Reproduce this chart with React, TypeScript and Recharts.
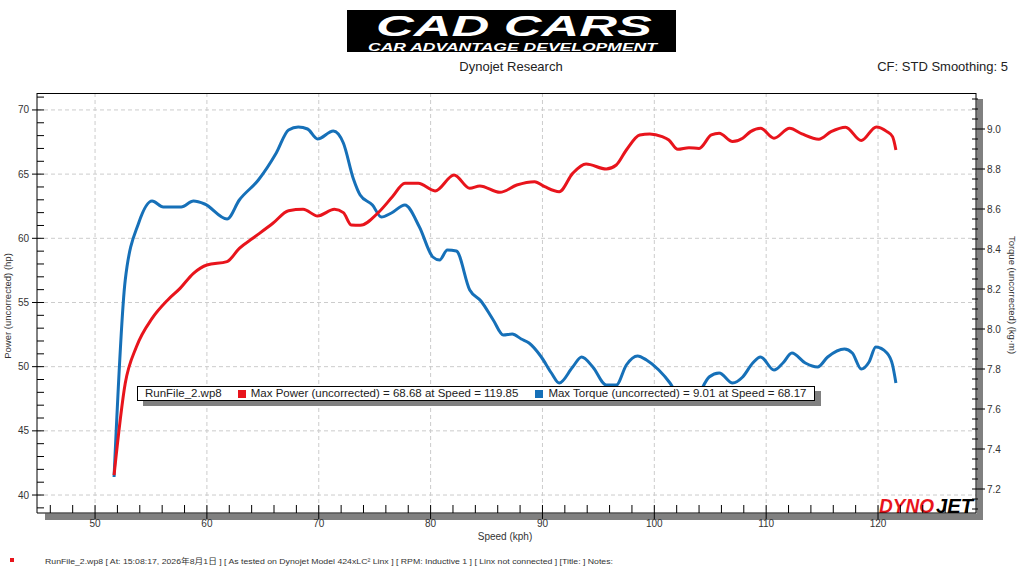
import React from 'react';
import { LineChart, Line, XAxis, YAxis, CartesianGrid, Legend } from 'recharts';

// ---- data ----
const powerSpeed = [51.7, 52.7, 53.7, 55.1, 56.5, 57.6, 58.8, 60.0, 61.8, 62.9, 64.1, 65.9, 67.3, 68.6, 69.9, 71.4, 72.2, 72.9, 73.7, 75.4, 76.6, 77.7, 78.9, 80.4, 82.1, 83.5, 84.4, 86.2, 87.7, 89.3, 90.2, 91.5, 92.7, 93.9, 95.7, 96.6, 97.5, 98.7, 99.6, 100.7, 101.3, 102.1, 103.1, 104.0, 105.1, 105.8, 107.0, 107.9, 108.6, 109.5, 110.7, 112.1, 113.2, 114.7, 115.8, 117.1, 118.5, 119.85, 120.8, 121.3, 121.6];
const powerHp = [41.55, 48.7, 51.55, 53.76, 55.2, 56.1, 57.27, 57.92, 58.18, 59.22, 60.0, 61.17, 62.15, 62.26, 61.74, 62.26, 62.0, 61.04, 61.01, 62.07, 63.25, 64.29, 64.29, 63.69, 64.93, 63.9, 64.08, 63.58, 64.15, 64.41, 64.02, 63.63, 65.06, 65.79, 65.4, 65.71, 66.88, 68.05, 68.13, 67.92, 67.66, 66.93, 67.06, 67.0, 68.05, 68.18, 67.54, 67.8, 68.31, 68.57, 67.8, 68.57, 68.13, 67.72, 68.31, 68.66, 67.62, 68.68, 68.31, 67.92, 66.88];

const torqueSpeed = [51.7, 52.7, 53.9, 55.1, 56.1, 57.7, 58.8, 59.8, 61.8, 62.9, 64.6, 66.2, 67.3, 68.17, 69.0, 69.9, 71.3, 72.2, 73.1, 73.7, 74.8, 75.6, 76.5, 77.7, 79.0, 80.2, 80.8, 81.5, 82.3, 83.5, 84.5, 85.6, 86.5, 87.3, 88.1, 88.8, 89.9, 90.8, 91.5, 92.7, 93.5, 94.5, 95.7, 96.6, 97.5, 98.5, 99.3, 100.4, 101.4, 102.2, 102.9, 103.8, 104.9, 105.8, 107.0, 107.9, 108.8, 109.5, 110.7, 111.5, 112.3, 113.5, 114.6, 115.5, 117.0, 117.7, 118.5, 119.2, 119.8, 120.8, 121.3, 121.6];
const torqueKgm = [7.26, 8.245, 8.53, 8.64, 8.61, 8.61, 8.64, 8.625, 8.55, 8.645, 8.745, 8.88, 8.995, 9.01, 9.0, 8.95, 8.99, 8.93, 8.75, 8.67, 8.62, 8.56, 8.58, 8.62, 8.51, 8.36, 8.345, 8.395, 8.39, 8.195, 8.14, 8.045, 7.97, 7.975, 7.95, 7.93, 7.86, 7.78, 7.73, 7.81, 7.86, 7.81, 7.72, 7.72, 7.82, 7.865, 7.845, 7.795, 7.73, 7.66, 7.635, 7.66, 7.76, 7.78, 7.73, 7.76, 7.83, 7.86, 7.795, 7.83, 7.88, 7.83, 7.81, 7.86, 7.9, 7.88, 7.8, 7.835, 7.91, 7.88, 7.82, 7.73];

// ---- ticks ----
const speedMajor = [50, 60, 70, 80, 90, 100, 110, 120];
const speedTicks = [46, 48, 50, 52, 54, 56, 58, 60, 62, 64, 66, 68, 70, 72, 74, 76, 78, 80, 82, 84, 86, 88, 90, 92, 94, 96, 98, 100, 102, 104, 106, 108, 110, 112, 114, 116, 118, 120, 122, 124, 126, 128];
const hpMajor = [40, 45, 50, 55, 60, 65, 70];
const hpTicks = [39, 40, 41, 42, 43, 44, 45, 46, 47, 48, 49, 50, 51, 52, 53, 54, 55, 56, 57, 58, 59, 60, 61, 62, 63, 64, 65, 66, 67, 68, 69, 70, 71];
const kgMajor = [7.2, 7.4, 7.6, 7.8, 8.0, 8.2, 8.4, 8.6, 8.8, 9.0];
const kgTicks = [7.1, 7.15, 7.2, 7.25, 7.3, 7.35, 7.4, 7.45, 7.5, 7.55, 7.6, 7.65, 7.7, 7.75, 7.8, 7.85, 7.9, 7.95, 8.0, 8.05, 8.1, 8.15, 8.2, 8.25, 8.3, 8.35, 8.4, 8.45, 8.5, 8.55, 8.6, 8.65, 8.7, 8.75, 8.8, 8.85, 8.9, 8.95, 9.0, 9.05, 9.1, 9.15];

const legendFile = 'RunFile_2.wp8';
const legendPower = 'Max Power (uncorrected) = 68.68 at Speed = 119.85';
const legendTorque = 'Max Torque (uncorrected) = 9.01 at Speed = 68.17';
const footerText = 'RunFile_2.wp8  [  At:  15:08:17,  2026年8月1日  ] [ As tested on Dynojet Model 424xLC² Linx ] [ RPM: Inductive 1 ] [ Linx not connected ] [Title: ]  Notes:';

const powerData = powerSpeed.map((s, i) => ({ speed: s, power: powerHp[i] }));
const torqueData = torqueSpeed.map((s, i) => ({ speed: s, torque: torqueKgm[i] }));

const RED = '#e8141c';
const BLUE = '#1670b8';
const FONT = '"Liberation Sans", Arial, "Noto Sans CJK JP", sans-serif';

const isIn = (arr: number[], v: number) => arr.some((a) => Math.abs(a - v) < 1e-6);

const BottomTick = (p: any) => {
  const { x, y, payload } = p;
  const major = isIn(speedMajor, payload.value);
  return (
    <g>
      <line x1={x} x2={x} y1={y - 8} y2={major ? y + 6 : y} stroke="#000" strokeWidth={1} />
      {major && (
        <text x={x} y={y + 14} textAnchor="middle" fontSize={10} fill="#333" fontFamily={FONT}>
          {payload.value}
        </text>
      )}
    </g>
  );
};

const LeftTick = (p: any) => {
  const { x, y, payload } = p;
  const major = isIn(hpMajor, payload.value);
  return (
    <g>
      <line x1={major ? x - 5 : x} x2={x + 7} y1={y} y2={y} stroke="#000" strokeWidth={1} />
      {major && (
        <text x={x - 8} y={y + 3.5} textAnchor="end" fontSize={10} fill="#333" fontFamily={FONT}>
          {payload.value}
        </text>
      )}
    </g>
  );
};

const RightTick = (p: any) => {
  const { x, y, payload } = p;
  const major = isIn(kgMajor, payload.value);
  return (
    <g>
      <line x1={x - 4} x2={major ? x + 9 : x + 2} y1={y} y2={y} stroke="#000" strokeWidth={1} />
      {major && (
        <text x={x + 11} y={y + 3.5} textAnchor="start" fontSize={10} fill="#333" fontFamily={FONT}>
          {Number(payload.value).toFixed(1)}
        </text>
      )}
    </g>
  );
};

const LegendBox = () => (
  <div
    style={{
      boxSizing: 'border-box',
      width: 678,
      height: 15,
      border: '1px solid #000',
      background: '#fff',
      boxShadow: '6px 5px 0 #808080',
      display: 'flex',
      alignItems: 'center',
      fontFamily: FONT,
      fontSize: 11.5,
      color: '#222',
      whiteSpace: 'nowrap',
      paddingLeft: 7,
      lineHeight: '13px',
    }}
  >
    <span>{legendFile}</span>
    <span style={{ display: 'inline-block', width: 8, height: 8, background: RED, marginLeft: 16, marginRight: 5 }} />
    <span>{legendPower}</span>
    <span style={{ display: 'inline-block', width: 8, height: 8, background: BLUE, marginLeft: 17, marginRight: 5 }} />
    <span>{legendTorque}</span>
  </div>
);

export default function App() {
  return (
    <div style={{ position: 'absolute', left: 0, top: 0, width: 1024, height: 576, background: '#fff', overflow: 'hidden' }}>
      <svg width={1024} height={576} style={{ position: 'absolute', left: 0, top: 0 }}>
        {/* header logo */}
        <rect x={347} y={10} width={329} height={42} fill="#000" />
        <text transform="translate(376,35.5) scale(1,1.28)" x={0} y={0} fill="#fff" fontFamily={FONT} fontWeight={900} fontStyle="italic" fontSize={23} textLength={276} lengthAdjust="spacingAndGlyphs">
          CAD CARS
        </text>
        <text x={368} y={50.8} fill="#fff" fontFamily={FONT} fontWeight={700} fontStyle="italic" fontSize={10} textLength={289} lengthAdjust="spacingAndGlyphs">
          CAR ADVANTAGE DEVELOPMENT
        </text>
        <text x={511} y={71} textAnchor="middle" fontFamily={FONT} fontSize={13} fill="#222">
          Dynojet Research
        </text>
        <text x={1008} y={71} textAnchor="end" fontFamily={FONT} fontSize={13} fill="#222">
          CF: STD Smoothing: 5
        </text>
        {/* frame shadow */}
        <rect x={976.5} y={99} width={6.5} height={421} fill="#808080" />
        <rect x={45} y={513.5} width={938} height={6.5} fill="#808080" />
        <rect x={37} y={93} width={939} height={420} fill="#fff" />
        {/* axis titles */}
        <text transform="translate(11,306) rotate(-90)" textAnchor="middle" fontFamily={FONT} fontSize={9.5} fill="#333">
          Power (uncorrected) (hp)
        </text>
        <text transform="translate(1009,295) rotate(90)" textAnchor="middle" fontFamily={FONT} fontSize={9.5} fill="#333">
          Torque (uncorrected) (kg·m)
        </text>
        <text x={505} y={540} textAnchor="middle" fontFamily={FONT} fontSize={10} fill="#333">
          Speed (kph)
        </text>
        {/* dynojet logo */}
        <text x={879} y={513} fill={RED} fontFamily={FONT} fontWeight={900} fontStyle="italic" fontSize={20} textLength={55} lengthAdjust="spacingAndGlyphs">
          DYNO
        </text>
        <text x={936} y={513} fill="#000" fontFamily={FONT} fontWeight={900} fontStyle="italic" fontSize={20} textLength={37} lengthAdjust="spacingAndGlyphs">
          JET
        </text>
        {/* footer */}
        <rect x={10} y={558} width={4} height={4} fill={RED} />
        <text x={45} y={564} fontFamily={FONT} fontSize={7.5} fill="#333" textLength={568} lengthAdjust="spacingAndGlyphs">
          {footerText}
        </text>
      </svg>
      <div style={{ position: 'absolute', left: 0, top: 0 }}>
        <LineChart width={1024} height={576} margin={{ top: 93, left: 36, right: 47, bottom: 62 }}>
          <CartesianGrid
            xAxisId="x"
            yAxisId="left"
            stroke="#cccccc"
            strokeDasharray="4 3"
            horizontalValues={hpMajor}
            verticalValues={speedMajor}
          />
          <XAxis
            xAxisId="x"
            type="number"
            dataKey="speed"
            domain={[44.81, 128.76]}
            allowDataOverflow
            ticks={speedTicks}
            interval={0}
            height={1}
            tickSize={0}
            tickMargin={0}
            tickLine={false}
            axisLine={{ stroke: '#000' }}
            tick={(p: any) => <BottomTick {...p} />}
          />
          <YAxis
            yAxisId="left"
            orientation="left"
            type="number"
            domain={[38.6, 71.32]}
            allowDataOverflow
            ticks={hpTicks}
            interval={0}
            width={1}
            tickSize={0}
            tickMargin={0}
            tickLine={false}
            axisLine={{ stroke: '#000' }}
            tick={(p: any) => <LeftTick {...p} />}
          />
          <YAxis
            yAxisId="right"
            orientation="right"
            type="number"
            domain={[7.08, 9.18]}
            allowDataOverflow
            ticks={kgTicks}
            interval={0}
            width={1}
            tickSize={0}
            tickMargin={0}
            tickLine={false}
            axisLine={{ stroke: '#000' }}
            tick={(p: any) => <RightTick {...p} />}
          />
          <Line
            xAxisId="x"
            yAxisId="right"
            data={torqueData}
            dataKey="torque"
            type="monotone"
            stroke={BLUE}
            strokeWidth={3}
            dot={false}
            activeDot={false}
            isAnimationActive={false}
          />
          <Line
            xAxisId="x"
            yAxisId="left"
            data={powerData}
            dataKey="power"
            type="monotone"
            stroke={RED}
            strokeWidth={3}
            dot={false}
            activeDot={false}
            isAnimationActive={false}
          />
          <Legend
            layout="horizontal"
            verticalAlign="middle"
            align="center"
            wrapperStyle={{ position: 'absolute', left: 137, top: 386, width: 678, height: 15 }}
            content={() => <LegendBox />}
          />
        </LineChart>
      </div>
      <svg width={1024} height={576} style={{ position: 'absolute', left: 0, top: 0, pointerEvents: 'none' }}>
        <line x1={37} x2={976} y1={93.5} y2={93.5} stroke="#000" strokeWidth={1} />
      </svg>
    </div>
  );
}
